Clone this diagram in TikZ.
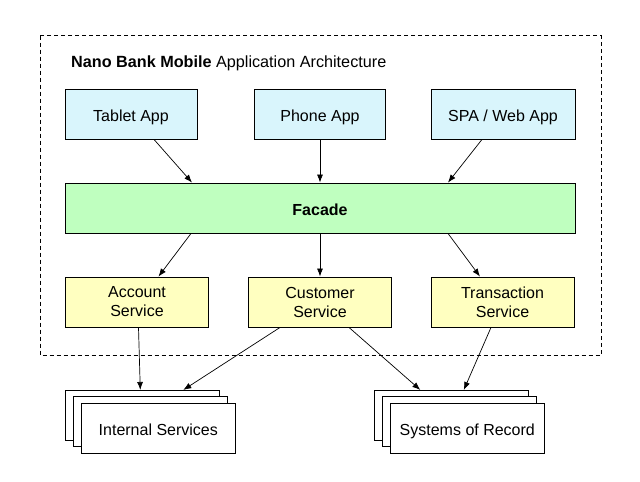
\documentclass[tikz,border=0pt]{standalone}
\usepackage{fontspec}
\setmainfont{Liberation Sans}
\usepackage{tikz}
\usetikzlibrary{arrows.meta,shadows,calc,positioning}

\definecolor{appblue}{HTML}{D9F5FC}
\definecolor{facadegreen}{HTML}{BFFFBF}
\definecolor{serviceyellow}{HTML}{FFFFC0}

\tikzset{
  box/.style={draw=black, line width=0.9pt, minimum height=50pt, inner sep=0pt,
    font=\fontsize{16}{19}\selectfont, align=center},
  oneline/.style={text height=14pt, text depth=0pt},
  app/.style={box, oneline, fill=appblue},
  facade/.style={box, oneline, fill=facadegreen, minimum width=510pt},
  service/.style={box, fill=serviceyellow, minimum width=143pt},
  store/.style={box, oneline, fill=white, minimum width=154pt,
    copy shadow={shadow xshift=-16pt, shadow yshift=12.6pt, fill=white, draw=black},
    copy shadow={shadow xshift=-8pt, shadow yshift=6.3pt, fill=white, draw=black}},
  arr/.style={-{Latex[length=8pt,width=6pt]}, line width=0.7pt}
}

\begin{document}
\begin{tikzpicture}[x=1pt, y=-1pt]
    \useasboundingbox (0,0) rectangle (640,482);
    \draw[line width=0.8pt, dash pattern=on 4pt off 3pt] (40,35.5) rectangle (601,355);
    \node[anchor=base west, inner sep=0pt, font=\fontsize{16.2}{19}\selectfont] (title) at (71,67.3)
      {\textbf{Nano Bank Mobile} Application Architecture};

    % clients
    \node (tablet) [app, minimum width=132pt] at (131,114) {Tablet App};
    \node (phone) [app, minimum width=131pt] at (320,114) {Phone App};
    \node (spa) [app, minimum width=144pt] at (503,114) {SPA / Web App};

    \node (facade) [facade] at (320,208) {\textbf{Facade}};

    % services
    \node (account) [service] at (137,302) {Account\\Service};
    \node (customer) [service] at (320,302) {Customer\\Service};
    \node (transaction) [service] at (502.5,302) {Transaction\\Service};

    % backends
    \node (internal) [store] at (158.3,428) {Internal Services};
    \node (record) [store] at (467.3,428) {Systems of Record};
    \coordinate (internal top) at ([shift={(-16pt,12.6pt)}]internal.north);
    \coordinate (record top) at ([shift={(-16pt,12.6pt)}]record.north);

    \draw[arr] ([xshift=23pt]tablet.south) -- ([xshift=-128pt]facade.north);
    \draw[arr] (phone.south) -- (facade.north);
    \draw[arr] ([xshift=-21pt]spa.south) -- ([xshift=128pt]facade.north);

    \draw[arr] ([xshift=-129pt]facade.south) -- ([xshift=21.5pt]account.north);
    \draw[arr] (facade.south) -- (customer.north);
    \draw[arr] ([xshift=128pt]facade.south) -- ([xshift=-22.5pt]transaction.north);

    \draw[arr] ([xshift=1.5pt]account.south) -- ([xshift=-2pt]internal top);
    \draw[arr] ([xshift=-40pt]customer.south) -- ([xshift=41pt]internal top);
    \draw[arr] ([xshift=29pt]customer.south) -- ([xshift=-31pt]record top);
    \draw[arr] ([xshift=-11.5pt]transaction.south) -- ([xshift=12.5pt]record top);
\end{tikzpicture}
\end{document}
